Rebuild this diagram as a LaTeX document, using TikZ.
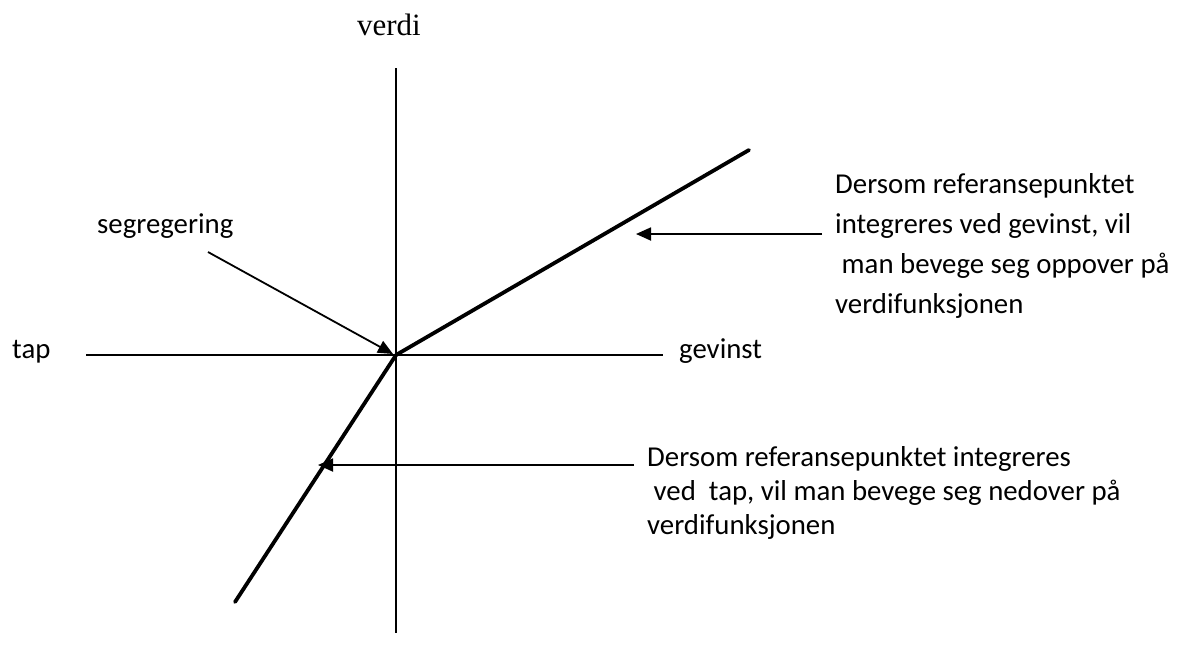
\documentclass[tikz,border=0pt]{standalone}
\usepackage{fontspec}
\setmainfont{Carlito}
\newfontfamily\seriffont{Liberation Serif}
\usetikzlibrary{arrows.meta}
\begin{document}
\begin{tikzpicture}[x=1pt,y=-1pt,
  axis/.style={line width=1.6pt},
  curve/.style={line width=3.8pt,line cap=round},
  pointer/.style={line width=1.8pt,-{Triangle[length=15pt,width=13pt]}},
  label/.style={anchor=base west,inner sep=0pt,font=\fontsize{28.8}{34}\selectfont}]
\useasboundingbox (0,0) rectangle (1183,662);

% axes
\coordinate (O) at (396,355);
\coordinate (ytop) at (396,68);
\coordinate (ybot) at (396,633);
\coordinate (xleft) at (86,355);
\coordinate (xright) at (663,355);
\draw[axis] (ytop) -- (ybot);
\draw[axis] (xleft) -- (xright);

% value function: steeper for losses
\coordinate (gainend) at (749,150);
\coordinate (lossend) at (235,602);
\draw[curve] (O) -- (gainend);
\draw[curve] (O) -- (lossend);

% axis labels
\node[anchor=base,inner sep=0pt,font=\seriffont\fontsize{31}{36}\selectfont] (verdi) at (389,35) {verdi};
\node[label] (tap) at (12,358) {tap};
\node[label] (gevinst) at (679,358) {gevinst};
\node[label] (seg) at (97,233) {segregering};

% explanatory notes
\node[label] (g1) at (835,193) {Dersom referansepunktet};
\node[label] (g2) at (835,233) {integreres ved gevinst, vil};
\node[label] (g3) at (835,273) {\ man bevege seg oppover på};
\node[label] (g4) at (835,313) {verdifunksjonen};

\node[label] (t1) at (647,466) {Dersom referansepunktet integreres};
\node[label] (t2) at (647,500) {\ ved\ \ tap, vil man bevege seg nedover på};
\node[label] (t3) at (647,534) {verdifunksjonen};

% pointers
\coordinate (segstart) at (208,252);
\coordinate (segtip) at (393,354);
\draw[pointer] (segstart) -- (segtip);

\coordinate (gstart) at (822,234);
\coordinate (gtip) at (636,234);
\draw[pointer] (gstart) -- (gtip);

\coordinate (tstart) at (634,465);
\coordinate (ttip) at (318,465);
\draw[pointer] (tstart) -- (ttip);
\end{tikzpicture}
\end{document}
